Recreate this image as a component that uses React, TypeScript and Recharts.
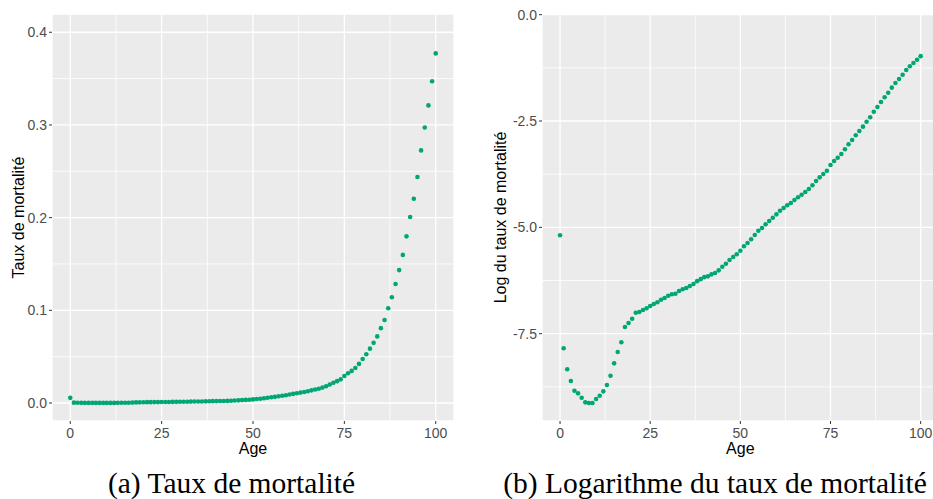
import React from 'react';
import {
  ScatterChart,
  Scatter,
  XAxis,
  YAxis,
  CartesianGrid,
  ReferenceLine,
} from 'recharts';

// ---- data ----
const ages = [
  0, 1, 2, 3, 4, 5, 6, 7, 8, 9, 10, 11, 12, 13, 14, 15, 16, 17, 18, 19, 20,
  21, 22, 23, 24, 25, 26, 27, 28, 29, 30, 31, 32, 33, 34, 35, 36, 37, 38, 39, 40,
  41, 42, 43, 44, 45, 46, 47, 48, 49, 50, 51, 52, 53, 54, 55, 56, 57, 58, 59, 60,
  61, 62, 63, 64, 65, 66, 67, 68, 69, 70, 71, 72, 73, 74, 75, 76, 77, 78, 79, 80,
  81, 82, 83, 84, 85, 86, 87, 88, 89, 90, 91, 92, 93, 94, 95, 96, 97, 98, 99, 100,
];

const mortalityRate = [
  0.00559, 0.00039, 0.00024, 0.00018, 0.00015, 0.00014, 0.00012, 0.00011, 0.00011, 0.00011,
  0.00012, 0.00013, 0.00014, 0.00017, 0.00021, 0.00028, 0.00036, 0.00045, 0.00065, 0.00071,
  0.00079, 0.00091, 0.00092, 0.00097, 0.00101, 0.00106, 0.00111, 0.00116, 0.00123, 0.00128,
  0.00135, 0.0014, 0.00142, 0.00151, 0.00157, 0.00162, 0.0017, 0.00178, 0.0019, 0.00199,
  0.00209, 0.00213, 0.00223, 0.0023, 0.00245, 0.00267, 0.00287, 0.00313, 0.00336, 0.00358,
  0.00389, 0.00431, 0.00466, 0.00509, 0.00563, 0.00623, 0.00664, 0.00723, 0.00782, 0.00846,
  0.00915, 0.0099, 0.01057, 0.01124, 0.01188, 0.01274, 0.01365, 0.01452, 0.01547, 0.01661,
  0.0181, 0.02004, 0.02184, 0.02361, 0.02553, 0.02919, 0.03207, 0.03467, 0.03782, 0.04222,
  0.0475, 0.05255, 0.05866, 0.06489, 0.07186, 0.08078, 0.08964, 0.10217, 0.11418, 0.12835,
  0.14342, 0.15978, 0.17979, 0.20068, 0.22045, 0.24389, 0.27253, 0.29729, 0.3211, 0.34715,
  0.37719,
];

const logMortalityRate = [
  -5.187, -7.844, -8.338, -8.613, -8.841, -8.903, -9.005, -9.114, -9.13, -9.13,
  -9.036, -8.958, -8.856, -8.707, -8.488, -8.197, -7.931, -7.703, -7.343, -7.249,
  -7.148, -7.007, -6.99, -6.943, -6.903, -6.849, -6.802, -6.762, -6.701, -6.661,
  -6.607, -6.574, -6.56, -6.497, -6.457, -6.426, -6.379, -6.332, -6.265, -6.218,
  -6.171, -6.152, -6.105, -6.074, -6.011, -5.925, -5.855, -5.768, -5.697, -5.634,
  -5.549, -5.446, -5.368, -5.281, -5.18, -5.079, -5.015, -4.929, -4.851, -4.773,
  -4.694, -4.61, -4.545, -4.482, -4.427, -4.357, -4.294, -4.232, -4.169, -4.098,
  -4.012, -3.91, -3.824, -3.746, -3.668, -3.534, -3.44, -3.362, -3.275, -3.165,
  -3.047, -2.946, -2.836, -2.735, -2.633, -2.516, -2.412, -2.281, -2.17, -2.053,
  -1.942, -1.834, -1.716, -1.606, -1.512, -1.411, -1.3, -1.213, -1.136, -1.058,
  -0.975,
];

const xTicks = [0, 25, 50, 75, 100];
const xMinor = [12.5, 37.5, 62.5, 87.5];
const rateTicks = [0, 0.1, 0.2, 0.3, 0.4];
const rateMinor = [0.05, 0.15, 0.25, 0.35];
const logTicks = [-7.5, -5, -2.5, 0];
const logMinor = [-8.75, -6.25, -3.75, -1.25];

const captionA = '(a) Taux de mortalité';
const captionB = '(b) Logarithme du taux de mortalité';
const xTitle = 'Age';
const yTitleA = 'Taux de mortalité';
const yTitleB = 'Log du taux de mortalité';

// ---- style ----
const POINT = '#00A673';
const SANS = '"Liberation Sans", Arial, sans-serif';
const SERIF = '"Liberation Serif", "Times New Roman", serif';
const tickStyle = { fill: '#4D4D4D', fontSize: 14, fontFamily: SANS };
const tickLine = { stroke: '#333333', strokeWidth: 1 };

const rateData = ages.map((a, i) => ({ age: a, v: mortalityRate[i] }));
const logData = ages.map((a, i) => ({ age: a, v: logMortalityRate[i] }));

const Dot = (p: any) => <circle cx={p.cx} cy={p.cy} r={2.3} fill={POINT} />;

function Panel(props: {
  data: { age: number; v: number }[];
  yDomain: [number, number];
  yTicks: number[];
  yMinor: number[];
  yAxisWidth: number;
  width: number;
  rightMargin: number;
}) {
  const { data, yDomain, yTicks, yMinor, yAxisWidth, width, rightMargin } = props;
  return (
    <ScatterChart
      width={width}
      height={499}
      margin={{ top: 14, right: rightMargin, left: 0, bottom: 48 }}
    >
      <CartesianGrid
        fill="#EBEBEB"
        fillOpacity={1}
        stroke="#FFFFFF"
        strokeWidth={1.3}
      />
      {xMinor.map((x) => (
        <ReferenceLine key={'vx' + x} x={x} stroke="#FFFFFF" strokeWidth={0.8} />
      ))}
      {yMinor.map((y) => (
        <ReferenceLine key={'hy' + y} y={y} stroke="#FFFFFF" strokeWidth={0.8} />
      ))}
      <XAxis
        type="number"
        dataKey="age"
        domain={[-5, 105]}
        ticks={xTicks}
        interval={0}
        allowDataOverflow
        axisLine={false}
        tickLine={tickLine}
        tickSize={3}
        tickMargin={4}
        tick={tickStyle}
        height={30}
      />
      <YAxis
        type="number"
        dataKey="v"
        domain={yDomain}
        ticks={yTicks}
        interval={0}
        allowDataOverflow
        axisLine={false}
        tickLine={tickLine}
        tickSize={3}
        tickMargin={2}
        tick={tickStyle}
        width={yAxisWidth}
        tickFormatter={(v: number) => v.toFixed(1)}
      />
      <Scatter data={data} shape={Dot} isAnimationActive={false} />
    </ScatterChart>
  );
}

export default function App() {
  return (
    <div
      style={{
        position: 'fixed',
        left: 0,
        top: 0,
        width: 933,
        height: 499,
        overflow: 'hidden',
        background: '#FFFFFF',
      }}
    >
      <div style={{ position: 'absolute', left: 0, top: 0 }}>
        <Panel
          data={rateData}
          yDomain={[-0.0194, 0.4197]}
          yTicks={rateTicks}
          yMinor={rateMinor}
          yAxisWidth={52}
          width={470}
          rightMargin={16}
        />
      </div>
      <div style={{ position: 'absolute', left: 470, top: 0 }}>
        <Panel
          data={logData}
          yDomain={[-9.553, 0.016]}
          yTicks={logTicks}
          yMinor={logMinor}
          yAxisWidth={72}
          width={480}
          rightMargin={11.3}
        />
      </div>
      <svg
        width={933}
        height={499}
        style={{ position: 'absolute', left: 0, top: 0, pointerEvents: 'none' }}
      >
        <text x={253} y={454} textAnchor="middle" fontFamily={SANS} fontSize={16} fill="#000">
          {xTitle}
        </text>
        <text x={740.3} y={454} textAnchor="middle" fontFamily={SANS} fontSize={16} fill="#000">
          {xTitle}
        </text>
        <text
          x={0}
          y={0}
          transform="translate(23.5,217.5) rotate(-90)"
          textAnchor="middle"
          fontFamily={SANS}
          fontSize={16}
          fill="#000"
        >
          {yTitleA}
        </text>
        <text
          x={0}
          y={0}
          transform="translate(506,217.5) rotate(-90)"
          textAnchor="middle"
          fontFamily={SANS}
          fontSize={16}
          fill="#000"
        >
          {yTitleB}
        </text>
        <text x={231.5} y={493} textAnchor="middle" fontFamily={SERIF} fontSize={29.5} fill="#000">
          {captionA}
        </text>
        <text x={715} y={493} textAnchor="middle" fontFamily={SERIF} fontSize={29.5} fill="#000">
          {captionB}
        </text>
      </svg>
    </div>
  );
}
